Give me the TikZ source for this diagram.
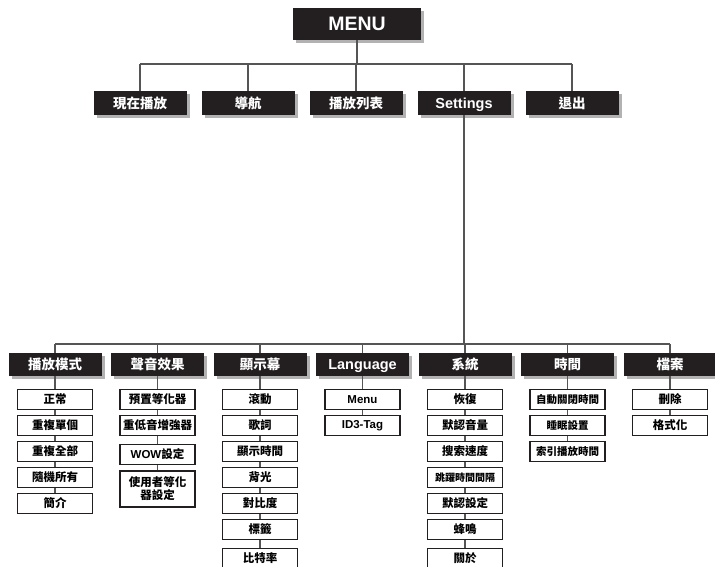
\documentclass[tikz,border=0pt]{standalone}
\usepackage{fontspec}
\setmainfont{Liberation Sans}
\newfontfamily\cjk{Noto Sans CJK TC}
\usepackage{tikz}
\usetikzlibrary{positioning}
\usetikzlibrary{shadows}
\definecolor{mn-ink}{HTML}{231F20}
\definecolor{mn-shade}{HTML}{B2B2B2}
\definecolor{mn-line}{HTML}{555555}
\newcommand{\zh}[1]{{\cjk\bfseries #1}}

\begin{document}
\begin{tikzpicture}[
    x=1pt, y=-1pt,
    menubox/.style={fill=mn-ink, text=white, font=\bfseries\fontsize{19.5}{20}\selectfont, minimum width=128pt, minimum height=32pt, inner sep=0pt, drop shadow={shadow xshift=3pt, shadow yshift=-3pt, fill=mn-shade, opacity=1}},
    head/.style={fill=mn-ink, text=white, font=\bfseries\fontsize{13.5}{15}\selectfont, minimum width=93pt, minimum height=23pt, inner sep=0pt, drop shadow={shadow xshift=3pt, shadow yshift=-3pt, fill=mn-shade, opacity=1}},
    latinhead/.style={font=\bfseries\fontsize{14.5}{15}\selectfont, text height=10.4pt, text depth=0pt},
    item/.style={draw=mn-ink, line width=1.1pt, fill=white, font=\bfseries\fontsize{11.5}{13}\selectfont, minimum width=75pt, minimum height=20pt, inner sep=0pt, align=center},
    link/.style={draw=mn-line, line width=1.1pt}
]
\useasboundingbox (0,0) rectangle (715,566);

% =========================================================================
% RAIZ E PRIMEIRO NÍVEL
% =========================================================================
\node[menubox] (menu) at (357,24) {MENU};

\node[head, minimum height=24pt] (nowplay)  at (140,103) {\zh{現在播放}};
\node[head, minimum height=24pt] (nav)      at (248,103) {\zh{導航}};
\node[head, minimum height=24pt] (playlist) at (356,103) {\zh{播放列表}};
\node[head, minimum height=24pt, latinhead] (settings) at (464,103) {Settings};
\node[head, minimum height=24pt] (quit)     at (572,103) {\zh{退出}};

\coordinate (topbus) at (357,64);
\draw[link] (menu.south) -- (menu.south |- topbus);
\draw[link] (nowplay.north |- topbus) -- (quit.north |- topbus);
\draw[link] (nowplay.north) -- (nowplay.north |- topbus);
\draw[link] (nav.north) -- (nav.north |- topbus);
\draw[link] (playlist.north) -- (playlist.north |- topbus);
\draw[link] (settings.north) -- (settings.north |- topbus);
\draw[link] (quit.north) -- (quit.north |- topbus);

% =========================================================================
% SUBMENU SETTINGS
% =========================================================================
\node[head] (mode)    at (55,364.5)  {\zh{播放模式}};
\node[head] (sound)   at (157.5,364.5) {\zh{聲音效果}};
\node[head] (display) at (260,364.5) {\zh{顯示幕}};
\node[head, latinhead] (lang) at (362.5,364.5) {Language};
\node[head] (system)  at (465,364.5) {\zh{系統}};
\node[head] (clock)   at (567.5,364.5) {\zh{時間}};
\node[head] (file)    at (670,364.5) {\zh{檔案}};

\coordinate (botbus) at (464,344);
\draw[link] (settings.south) -- (settings.south |- botbus);
\draw[link] (mode.north |- botbus) -- (file.north |- botbus);
\draw[link] (mode.north) -- (mode.north |- botbus);
\draw[link] (sound.north) -- (sound.north |- botbus);
\draw[link] (display.north) -- (display.north |- botbus);
\draw[link] (lang.north) -- (lang.north |- botbus);
\draw[link] (system.north) -- (system.north |- botbus);
\draw[link] (clock.north) -- (clock.north |- botbus);
\draw[link] (file.north) -- (file.north |- botbus);

% Playback mode
\node[item] (mode1) at (55,399.5) {\zh{正常}};
\node[item] (mode2) at (55,425.5) {\zh{重複單個}};
\node[item] (mode3) at (55,451.5) {\zh{重複全部}};
\node[item] (mode4) at (55,477.5) {\zh{隨機所有}};
\node[item] (mode5) at (55,503.5) {\zh{簡介}};
\draw[link] (mode) -- (mode1) (mode1) -- (mode2) (mode2) -- (mode3) (mode3) -- (mode4) (mode4) -- (mode5);

% Sound effects
\node[item] (sound1) at (157.5,399.5) {\zh{預置等化器}};
\node[item] (sound2) at (157.5,425.5) {\zh{重低音增強器}};
\node[item] (sound3) at (157.5,454.5) {WOW\zh{設定}};
\node[item, minimum height=36pt] (sound4) at (157.5,489) {\zh{使用者等化}\\\zh{器設定}};
\draw[link] (sound) -- (sound1) (sound1) -- (sound2) (sound2) -- (sound3) (sound3) -- (sound4);

% Display
\node[item] (display1) at (260,399.5) {\zh{滾動}};
\node[item] (display2) at (260,425.5) {\zh{歌詞}};
\node[item] (display3) at (260,451.5) {\zh{顯示時間}};
\node[item] (display4) at (260,477.5) {\zh{背光}};
\node[item] (display5) at (260,503.5) {\zh{對比度}};
\node[item] (display6) at (260,529.5) {\zh{標籤}};
\node[item] (display7) at (260,558.5) {\zh{比特率}};
\draw[link] (display) -- (display1) (display1) -- (display2) (display2) -- (display3) (display3) -- (display4) (display4) -- (display5) (display5) -- (display6) (display6) -- (display7);

% Language
\node[item] (lang1) at (362.5,399.5) {Menu};
\node[item] (lang2) at (362.5,425.5) {ID3-Tag};
\draw[link] (lang) -- (lang1) (lang1) -- (lang2);

% System
\node[item] (system1) at (465,399.5) {\zh{恢復}};
\node[item] (system2) at (465,425.5) {\zh{默認音量}};
\node[item] (system3) at (465,451.5) {\zh{搜索速度}};
\node[item, font=\bfseries\fontsize{10}{12}\selectfont] (system4) at (465,477.5) {\zh{跳躍時間間隔}};
\node[item] (system5) at (465,503.5) {\zh{默認設定}};
\node[item] (system6) at (465,529.5) {\zh{蜂鳴}};
\node[item] (system7) at (465,558.5) {\zh{關於}};
\draw[link] (system) -- (system1) (system1) -- (system2) (system2) -- (system3) (system3) -- (system4) (system4) -- (system5) (system5) -- (system6) (system6) -- (system7);

% Time
\node[item, font=\bfseries\fontsize{10.5}{12}\selectfont] (clock1) at (567.5,399.5) {\zh{自動關閉時間}};
\node[item, font=\bfseries\fontsize{10.5}{12}\selectfont] (clock2) at (567.5,425.5) {\zh{睡眠設置}};
\node[item, font=\bfseries\fontsize{10.5}{12}\selectfont] (clock3) at (567.5,451.5) {\zh{索引播放時間}};
\draw[link] (clock) -- (clock1) (clock1) -- (clock2) (clock2) -- (clock3);

% File
\node[item] (file1) at (670,399.5) {\zh{刪除}};
\node[item] (file2) at (670,425.5) {\zh{格式化}};
\draw[link] (file) -- (file1) (file1) -- (file2);

\end{tikzpicture}
\end{document}
